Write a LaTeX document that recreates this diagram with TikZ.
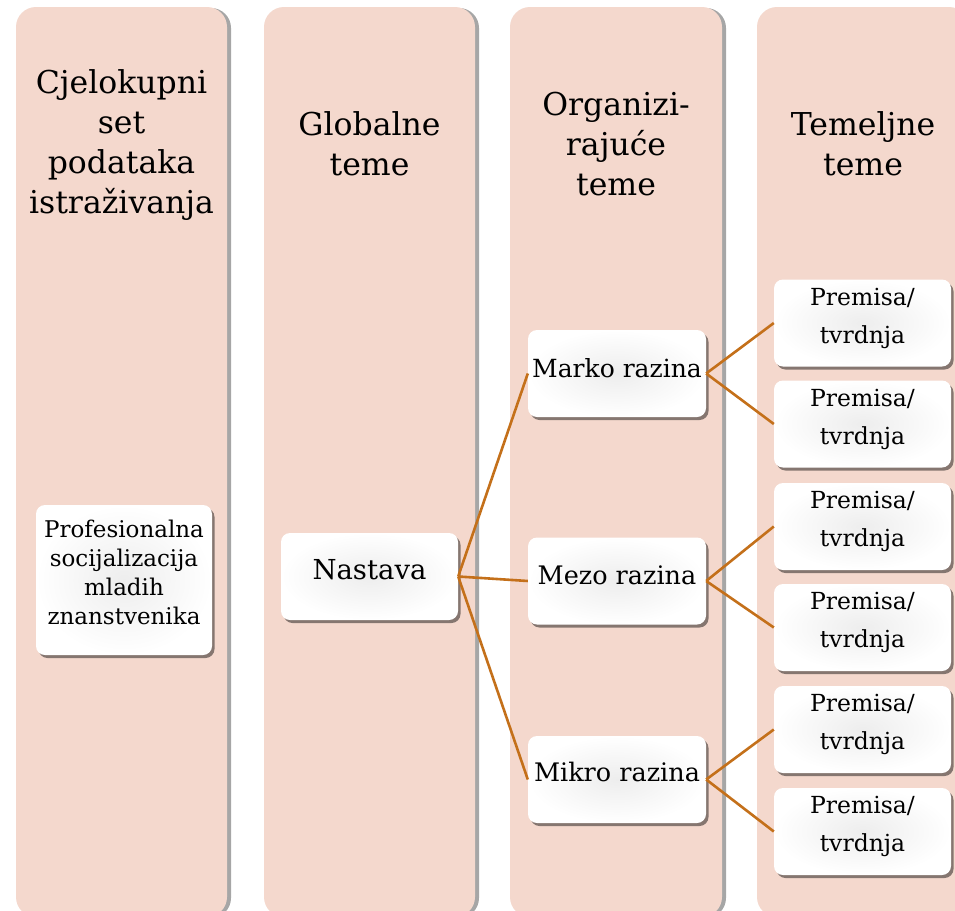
\documentclass[tikz,border=0pt]{standalone}
\usepackage{fontspec}
\setmainfont{DejaVu Serif}
\usetikzlibrary{shadows}
\definecolor{colfill}{HTML}{F4D8CD}
\definecolor{linkc}{HTML}{C4701A}
\tikzset{
  colbox/.style={rounded corners=20pt, fill=colfill, draw=none, inner sep=0pt,
    drop shadow={shadow xshift=4pt, shadow yshift=-1pt, opacity=.35, fill=black}},
  hdr/.style={align=center, font=\fontsize{31.5}{40}\selectfont, inner sep=0pt},
  item/.style={rounded corners=9pt, draw=none, inner sep=0pt,
    shading=radial, inner color=gray!14, outer color=white,
    drop shadow={shadow xshift=2.5pt, shadow yshift=-3pt, opacity=.45, fill=black},
    minimum width=177pt, minimum height=87pt},
  itxt/.style={align=center, inner sep=0pt},
  link/.style={draw=linkc, line width=2.6pt}
}
\begin{document}
\begin{tikzpicture}[x=1pt,y=-1pt]
\useasboundingbox (0,0) rectangle (955,910);
\fill[white] (0,0) rectangle (955,910);
\clip (0,0) rectangle (955,910);
% columns
\node[colbox, minimum width=211pt, minimum height=910pt] (c1) at (121.5,462) {};
\node[colbox, minimum width=211pt, minimum height=910pt] (c2) at (369.5,462) {};
\node[colbox, minimum width=212pt, minimum height=910pt] (c3) at (616,462) {};
\node[colbox, minimum width=212pt, minimum height=910pt] (c4) at (863,462) {};
% headers
\node[hdr] (h1) at (121.5,145) {Cjelokupni\\set\\podataka\\istraživanja};
\node[hdr] (h2) at (369.5,144) {Globalne\\teme};
\node[hdr] (h3) at (616,144) {Organizi-\\rajuće\\teme};
\node[hdr] (h4) at (863,144) {Temeljne\\teme};
% item boxes
\node[item, minimum width=176pt, minimum height=150pt] (prof) at (124,580) {};
\node[item] (nast) at (369.5,576.5) {};
\node[item, minimum width=178pt] (marko) at (617,373.5) {};
\node[item, minimum width=178pt] (mezo) at (617,581) {};
\node[item, minimum width=178pt] (mikro) at (617,779.5) {};
\foreach \i/\y in {1/323,2/424,3/526.5,4/627.5,5/729.5,6/831.5}{
  \node[item] (p\i) at (862.5,\y) {};
}
% item texts
\node[itxt, font=\fontsize{23}{29}\selectfont] (tprof) at (124,572) {Profesionalna\\socijalizacija\\mladih\\znanstvenika};
\node[itxt, font=\fontsize{27.5}{33}\selectfont] (tnast) at (369.5,570) {Nastava};
\node[itxt, font=\fontsize{25}{30}\selectfont] (tmarko) at (617,368) {Marko razina};
\node[itxt, font=\fontsize{25.5}{30}\selectfont] (tmezo) at (617,575) {Mezo razina};
\node[itxt, font=\fontsize{25.5}{30}\selectfont] (tmikro) at (617,772) {Mikro razina};
\foreach \i/\y in {1/318,2/419,3/521.5,4/622.5,5/724.5,6/826.5}{
  \node[itxt, font=\fontsize{23.5}{38}\selectfont] (tp\i) at (862.5,\y) {Premisa/\\tvrdnja};
}
% links
\draw[link] (nast.east) -- (marko.west);
\draw[link] (nast.east) -- (mezo.west);
\draw[link] (nast.east) -- (mikro.west);
\draw[link] (marko.east) -- (p1.west);
\draw[link] (marko.east) -- (p2.west);
\draw[link] (mezo.east) -- (p3.west);
\draw[link] (mezo.east) -- (p4.west);
\draw[link] (mikro.east) -- (p5.west);
\draw[link] (mikro.east) -- (p6.west);
\end{tikzpicture}
\end{document}
